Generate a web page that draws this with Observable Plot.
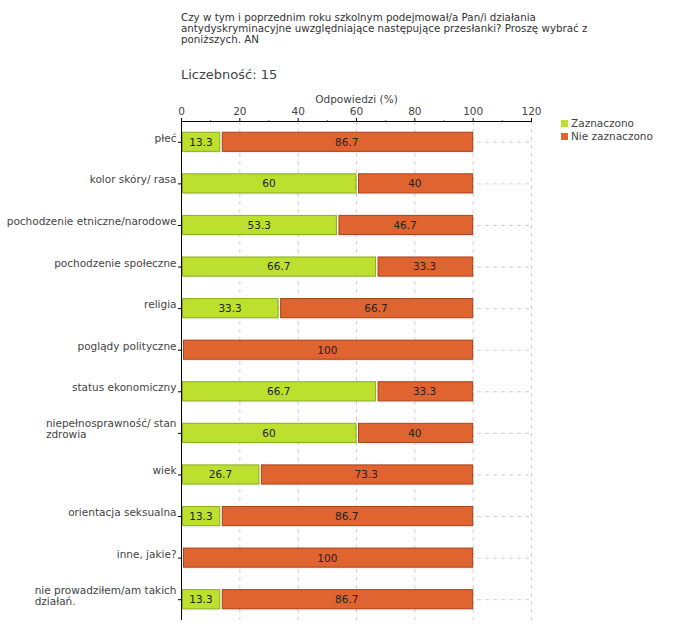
<!DOCTYPE html>
<html><head><meta charset="utf-8">
<script src="https://cdn.jsdelivr.net/npm/d3@7"></script>
<script src="https://cdn.jsdelivr.net/npm/@observablehq/plot@0.6"></script>
<style>
body{margin:0;background:#fff;font-family:"DejaVu Sans",Verdana,sans-serif;}
#wrap{position:relative;width:680px;height:640px;}
#title{position:absolute;left:181px;top:12px;font-size:10.3px;line-height:11px;color:#333;white-space:nowrap}
#count{position:absolute;left:181px;top:67px;font-size:13px;color:#444;white-space:nowrap}
#legend{position:absolute;left:561px;top:117px;font-size:10.5px;color:#444;line-height:13px;white-space:nowrap}
.sw{display:inline-block;width:7px;height:7px;margin-right:3px;vertical-align:0px}
#chart svg{position:absolute;left:0;top:0}
</style></head>
<body>
<div id="wrap">
  <div id="chart"></div>
  <div id="title">Czy w tym i poprzednim roku szkolnym podejmował/a Pan/i działania<br>antydyskryminacyjne uwzględniające następujące przesłanki? Proszę wybrać z<br>poniższych. AN</div>
  <div id="count">Liczebność: 15</div>
  <div id="legend"></div>
</div>
<script>
const categories = [
  "płeć",
  "kolor skóry/ rasa",
  "pochodzenie etniczne/narodowe",
  "pochodzenie społeczne",
  "religia",
  "poglądy polityczne",
  "status ekonomiczny",
  "niepełnosprawność/ stan\nzdrowia",
  "wiek",
  "orientacja seksualna",
  "inne, jakie?",
  "nie prowadziłem/am takich\ndziałań."
];
const zaznaczono    = [13.3, 60, 53.3, 66.7, 33.3, 0, 66.7, 60, 26.7, 13.3, 0, 13.3];
const nieZaznaczono = [86.7, 40, 46.7, 33.3, 66.7, 100, 33.3, 40, 73.3, 86.7, 100, 86.7];
const seriesNames = ["Zaznaczono", "Nie zaznaczono"];
const seriesFill = ["#bde02e", "#e0642f"];
const seriesStroke = ["#8dad1e", "#a4441c"];
const xTicks = [0, 20, 40, 60, 80, 100, 120];
const xMinorTicks = [10, 30, 50, 70, 90, 110];
const xGridTicks = [20, 40, 60, 80, 100, 120];
const xDomain = [0, 120];
const axisTitle = "Odpowiedzi (%)";

const greenRows = [], orangeRows = [];
categories.forEach((c, i) => {
  const g = zaznaczono[i], o = nieZaznaczono[i];
  if (g > 0) greenRows.push({cat: c, x1: 0, x2: g, value: g});
  if (o > 0) orangeRows.push({cat: c, x1: g, x2: g + o, value: o});
});
const allRows = greenRows.concat(orangeRows);

const axisLines = (index, scales, values, dims) => {
  const g = d3.create("svg:g");
  const x0 = dims.marginLeft, x1 = dims.width - dims.marginRight;
  const y0 = dims.marginTop, y1 = dims.height - dims.marginBottom;
  g.append("line").attr("x1", x0).attr("x2", x1).attr("y1", y0 + 0.5).attr("y2", y0 + 0.5).attr("stroke", "#000");
  g.append("line").attr("x1", x0 + 0.5).attr("x2", x0 + 0.5).attr("y1", y0).attr("y2", y1).attr("stroke", "#000");
  return g.node();
};

const chart = Plot.plot({
  width: 680,
  height: 640,
  marginLeft: 181,
  marginRight: 149,
  marginTop: 121,
  marginBottom: 20,
  style: {fontFamily: "DejaVu Sans, Verdana, sans-serif", fontSize: "10.5px", color: "#333", background: "white", overflow: "visible"},
  x: {domain: xDomain, axis: null},
  y: {domain: categories, paddingInner: 0.54, paddingOuter: 0.27, round: false, axis: null},
  marks: [
    Plot.gridX({ticks: xGridTicks, stroke: "#cfcfcf", strokeOpacity: 1, strokeDasharray: "4,4"}),
    Plot.gridY({stroke: "#cfcfcf", strokeOpacity: 1, strokeDasharray: "4,4"}),
    Plot.barX(greenRows, {x1: "x1", x2: "x2", y: "cat", insetLeft: 1.5, dx: 1, dy: 2, fill: "#000", fillOpacity: 0.06}),
    Plot.barX(orangeRows, {x1: "x1", x2: "x2", y: "cat", insetLeft: 2.5, dx: 1, dy: 2, fill: "#000", fillOpacity: 0.06}),
    Plot.barX(greenRows, {x1: "x1", x2: "x2", y: "cat", insetLeft: 1.5, fill: seriesFill[0], stroke: seriesStroke[0], strokeWidth: 1}),
    Plot.barX(orangeRows, {x1: "x1", x2: "x2", y: "cat", insetLeft: 2.5, fill: seriesFill[1], stroke: seriesStroke[1], strokeWidth: 1}),
    Plot.text(allRows, {x: d => (d.x1 + d.x2) / 2, y: "cat", text: d => String(d.value), fill: "#222", fontSize: 10.5}),
    Plot.axisX({anchor: "top", ticks: xTicks, tickSize: 4, tickPadding: 3, label: null, stroke: "#000", fill: "#444", fontSize: 10.5}),
    Plot.axisX({anchor: "top", ticks: xMinorTicks, tickSize: 2, tickFormat: () => "", label: null, stroke: "#e03030"}),
    Plot.text([axisTitle], {frameAnchor: "top", dy: -26, fill: "#444", fontSize: 10.5}),
    Plot.axisY({tickSize: 3, tickFormat: () => "", label: null, stroke: "#000"}),
    Plot.text(categories, {y: d => d, frameAnchor: "left", textAnchor: "end", dx: -5, dy: -4, lineAnchor: "middle", lineHeight: 1.05, fill: "#444", fontSize: 10.5}),
    axisLines
  ]
});
document.getElementById("chart").appendChild(chart);

// left-align the lines of multi-line category labels, like the reference
chart.querySelectorAll("text").forEach(t => {
  const spans = t.querySelectorAll("tspan");
  if (spans.length > 1) {
    const bb = t.getBBox();
    t.setAttribute("text-anchor", "start");
    spans.forEach(s => s.setAttribute("x", bb.x));
  }
});

const legend = document.getElementById("legend");
seriesNames.forEach((n, i) => {
  const row = document.createElement("div");
  const sw = document.createElement("span");
  sw.className = "sw";
  sw.style.background = seriesFill[i];
  row.appendChild(sw);
  row.appendChild(document.createTextNode(n));
  legend.appendChild(row);
});
</script>
</body></html>
